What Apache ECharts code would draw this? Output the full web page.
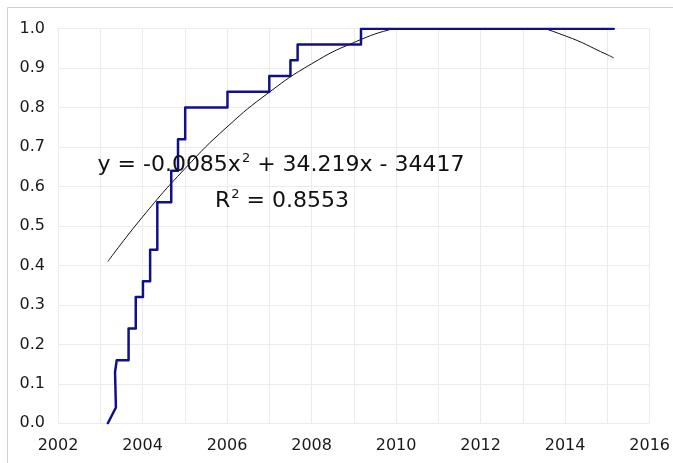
<!DOCTYPE html>
<html>
<head>
<meta charset="utf-8">
<script src="https://cdn.jsdelivr.net/npm/echarts@6/dist/echarts.min.js"></script>
<style>
html,body{margin:0;padding:0;background:#fff;}
#c{width:673px;height:463px;}
</style>
</head>
<body>
<div id="c"></div>
<script>
// ---- data ----
const startPath = [[2003.18, 0.00], [2003.37, 0.04], [2003.35, 0.13], [2003.39, 0.16]];
const startLevel = 0.16;
const stepDates  = [2003.67, 2003.84, 2004.01, 2004.18, 2004.35, 2004.68, 2004.84, 2005.01, 2006.01, 2007.00, 2007.50, 2007.67, 2009.17];
const stepValues = [0.24,    0.32,    0.36,    0.44,    0.56,    0.64,    0.72,    0.80,    0.84,    0.88,    0.92,    0.96,    1.00];
const endDate = 2015.15;

const trendX = [2003.18, 2004, 2005, 2006, 2007, 2008, 2009, 2010, 2011, 2012, 2013, 2014, 2015, 2015.15];
const trendY = [0.410, 0.523, 0.645, 0.751, 0.839, 0.911, 0.965, 1.002, 1.023, 1.026, 1.013, 0.982, 0.934, 0.926];

const equationText = ['y = -0.0085x', '2', ' + 34.219x - 34417'];
const r2Text = ['R', '2', ' = 0.8553'];

// ---- build series data ----
const stepPts = startPath.slice();
let prev = startLevel;
for (let i = 0; i < stepDates.length; i++) {
  stepPts.push([stepDates[i], prev]);
  stepPts.push([stepDates[i], stepValues[i]]);
  prev = stepValues[i];
}
stepPts.push([endDate, prev]);
const trendPts = trendX.map((x, i) => [x, trendY[i]]);

const FONT = '"DejaVu Sans", Verdana, sans-serif';
const richStyle = {
  m: {fontFamily: FONT, fontSize: 22, fill: '#111', lineHeight: 26},
  s: {fontFamily: FONT, fontSize: 13, fill: '#111', lineHeight: 18, verticalAlign: 'top', padding: [0, 0, 0, 1]}
};
const chart = echarts.init(document.getElementById('c'));
chart.setOption({
  animation: false,
  backgroundColor: '#fff',
  grid: {left: 58, right: 22, top: 28.7, bottom: 39.7, containLabel: false},
  xAxis: {
    type: 'value', min: 2002, max: 2016, interval: 2,
    axisLine: {show: false}, axisTick: {show: false},
    axisLabel: {color: '#1a1a1a', fontFamily: FONT, fontSize: 16, margin: 15,
      formatter: v => String(v)},
    splitLine: {show: true, lineStyle: {color: '#ebebeb', width: 1}},
    minorTick: {show: false, splitNumber: 2},
    minorSplitLine: {show: true, lineStyle: {color: '#ebebeb', width: 1}}
  },
  yAxis: {
    type: 'value', min: 0, max: 1, interval: 0.1,
    axisLine: {show: false}, axisTick: {show: false},
    axisLabel: {color: '#1a1a1a', fontFamily: FONT, fontSize: 16, margin: 13,
      formatter: v => v.toFixed(1)},
    splitLine: {show: true, lineStyle: {color: '#ebebeb', width: 1}}
  },
  series: [
    {
      type: 'line', data: trendPts, smooth: true, showSymbol: false, clip: true,
      lineStyle: {color: '#111', width: 1}, z: 2
    },
    {
      type: 'line', data: stepPts, showSymbol: false, clip: true,
      lineStyle: {color: '#10108a', width: 2.5, join: 'round', cap: 'round'}, z: 3
    }
  ],
  graphic: [
    {
      type: 'rect', silent: true, z: 0,
      shape: {x: 7.5, y: 7.5, width: 720, height: 520},
      style: {fill: 'none', stroke: '#d0d0d0', lineWidth: 1}
    },
    {
      type: 'text', x: 281, y: 165, z: 10,
      style: {
        text: '{m|' + equationText[0] + '}{s|' + equationText[1] + '}{m|' + equationText[2] + '}',
        align: 'center', verticalAlign: 'middle', rich: richStyle
      }
    },
    {
      type: 'text', x: 282, y: 201, z: 10,
      style: {
        text: '{m|' + r2Text[0] + '}{s|' + r2Text[1] + '}{m|' + r2Text[2] + '}',
        align: 'center', verticalAlign: 'middle', rich: richStyle
      }
    }
  ]
});
</script>
</body>
</html>
